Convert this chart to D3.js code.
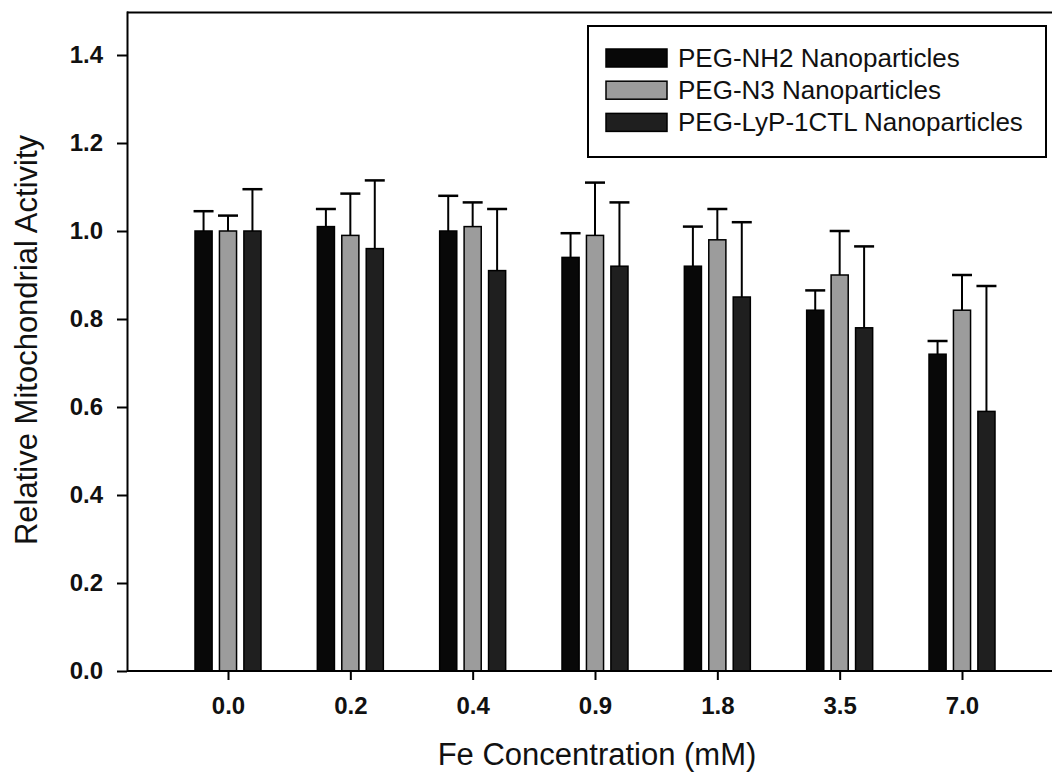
<html>
<head>
  <title>Mitochondrial Activity</title>
  <script src="https://d3js.org/d3.v7.min.js"></script>
  <meta charset="utf-8">
</head>

<style>
  body {
    margin: 0;
    background: #fff;
  }

  text {
    font-family: 'Liberation Sans', Arial, sans-serif;
  }

  .axis path,
  .axis line {
    fill: none;
    stroke: #000;
    stroke-width: 2px;
  }
</style>

<body>
  <div class="chart"></div>

  <script>
    // data
    var concentrations = ["0.0", "0.2", "0.4", "0.9", "1.8", "3.5", "7.0"];
    var seriesNames = ["PEG-NH2 Nanoparticles", "PEG-N3 Nanoparticles", "PEG-LyP-1CTL Nanoparticles"];
    var nh2 = [1.00, 1.01, 1.00, 0.94, 0.92, 0.82, 0.72];
    var n3 = [1.00, 0.99, 1.01, 0.99, 0.98, 0.90, 0.82];
    var lyp = [1.00, 0.96, 0.91, 0.92, 0.85, 0.78, 0.59];
    var nh2Err = [0.045, 0.04, 0.08, 0.055, 0.09, 0.045, 0.03];
    var n3Err = [0.035, 0.095, 0.055, 0.12, 0.07, 0.10, 0.08];
    var lypErr = [0.095, 0.155, 0.14, 0.145, 0.17, 0.185, 0.285];
    var yTicks = [0, 0.2, 0.4, 0.6, 0.8, 1.0, 1.2, 1.4];

    var colors = ["#080808", "#9c9c9c", "#1f1f1f"];
    var means = [nh2, n3, lyp];
    var errs = [nh2Err, n3Err, lypErr];

    var width = 1052, height = 775;
    var plot = {left: 127, top: 12.5, right: 1060, bottom: 671};

    var svg = d3.select('.chart')
      .append('svg')
        .attr('width', width)
        .attr('height', height);

    var x = d3.scalePoint().domain(concentrations).range([228, 962]);
    var xs = d3.scaleBand().domain(seriesNames).range([-33, 33]).paddingInner(0.3);
    var y = d3.scaleLinear().domain([0, 1.5]).range([plot.bottom, 11]);

    // flatten into one row per bar
    var rows = [];
    concentrations.forEach(function(c, i) {
      seriesNames.forEach(function(s, j) {
        rows.push({conc: c, series: s, k: j, value: means[j][i], err: errs[j][i]});
      });
    });

    var g = svg.append("g");

    // error bars (upper only), drawn under the bars
    var eb = g.selectAll(".err")
      .data(rows)
      .enter().append("g")
        .attr("class", "err")
        .attr("transform", function(d) { return "translate(" + (x(d.conc) + xs(d.series) + xs.bandwidth() / 2) + ",0)"; });

    eb.append("line")
        .attr("x1", 0).attr("x2", 0)
        .attr("y1", function(d) { return y(d.value); })
        .attr("y2", function(d) { return y(d.value + d.err); })
        .attr("stroke", "#000")
        .attr("stroke-width", 2);

    eb.append("line")
        .attr("x1", -10).attr("x2", 10)
        .attr("y1", function(d) { return y(d.value + d.err); })
        .attr("y2", function(d) { return y(d.value + d.err); })
        .attr("stroke", "#000")
        .attr("stroke-width", 2.5);

    g.selectAll(".bar")
      .data(rows)
      .enter().append("rect")
        .attr("class", "bar")
        .attr("x", function(d) { return x(d.conc) + xs(d.series); })
        .attr("y", function(d) { return y(d.value); })
        .attr("width", xs.bandwidth())
        .attr("height", function(d) { return y(0) - y(d.value); })
        .attr("fill", function(d) { return colors[d.k]; })
        .attr("stroke", "#000")
        .attr("stroke-width", 1.5);

    // frame: top line and the two axes
    svg.append("line")
        .attr("x1", plot.left).attr("x2", plot.right)
        .attr("y1", plot.top).attr("y2", plot.top)
        .attr("stroke", "#000")
        .attr("stroke-width", 2);

    svg.append("g")
        .attr("class", "axis axis--x")
        .attr("transform", "translate(0," + plot.bottom + ")")
        .call(d3.axisBottom(x).tickSizeInner(9).tickSizeOuter(0).tickPadding(17))
      .call(function(a) {
        a.select(".domain").attr("d", "M" + plot.left + ",0H" + plot.right);
        a.selectAll("text")
          .style("font-size", "24px")
          .style("font-weight", "700")
          .attr("fill", "#111");
      });

    svg.append("g")
        .attr("class", "axis axis--y")
        .attr("transform", "translate(" + plot.left + ",0)")
        .call(d3.axisLeft(y).tickValues(yTicks).tickFormat(d3.format(".1f")).tickSizeInner(10).tickSizeOuter(0).tickPadding(14))
      .call(function(a) {
        a.selectAll("text")
          .style("font-size", "24px")
          .style("font-weight", "700")
          .attr("fill", "#111");
      });

    // axis titles
    svg.append("text")
        .attr("x", 597)
        .attr("y", 765)
        .style("text-anchor", "middle")
        .style("font-size", "31px")
        .attr("fill", "#111")
        .text("Fe Concentration (mM)");

    svg.append("text")
        .attr("transform", "translate(37,340) rotate(-90)")
        .style("text-anchor", "middle")
        .style("font-size", "31px")
        .attr("fill", "#111")
        .text("Relative Mitochondrial Activity");

    // legend
    var legend = svg.append("g");

    legend.append("rect")
        .attr("x", 588)
        .attr("y", 26)
        .attr("width", 458)
        .attr("height", 131)
        .attr("fill", "#fff")
        .attr("stroke", "#000")
        .attr("stroke-width", 2);

    var item = legend.selectAll(".item")
      .data(seriesNames)
      .enter().append("g")
        .attr("class", "item")
        .attr("transform", function(d, i) { return "translate(606," + (58 + i * 32.2) + ")"; });

    item.append("rect")
        .attr("x", 0)
        .attr("y", -9)
        .attr("width", 61)
        .attr("height", 18)
        .attr("fill", function(d, i) { return colors[i]; })
        .attr("stroke", "#000")
        .attr("stroke-width", 1.5);

    item.append("text")
        .attr("x", 72)
        .attr("y", 9)
        .style("font-size", "26px")
        .attr("fill", "#111")
        .text(function(d) { return d; });
  </script>

</body>
</html>
